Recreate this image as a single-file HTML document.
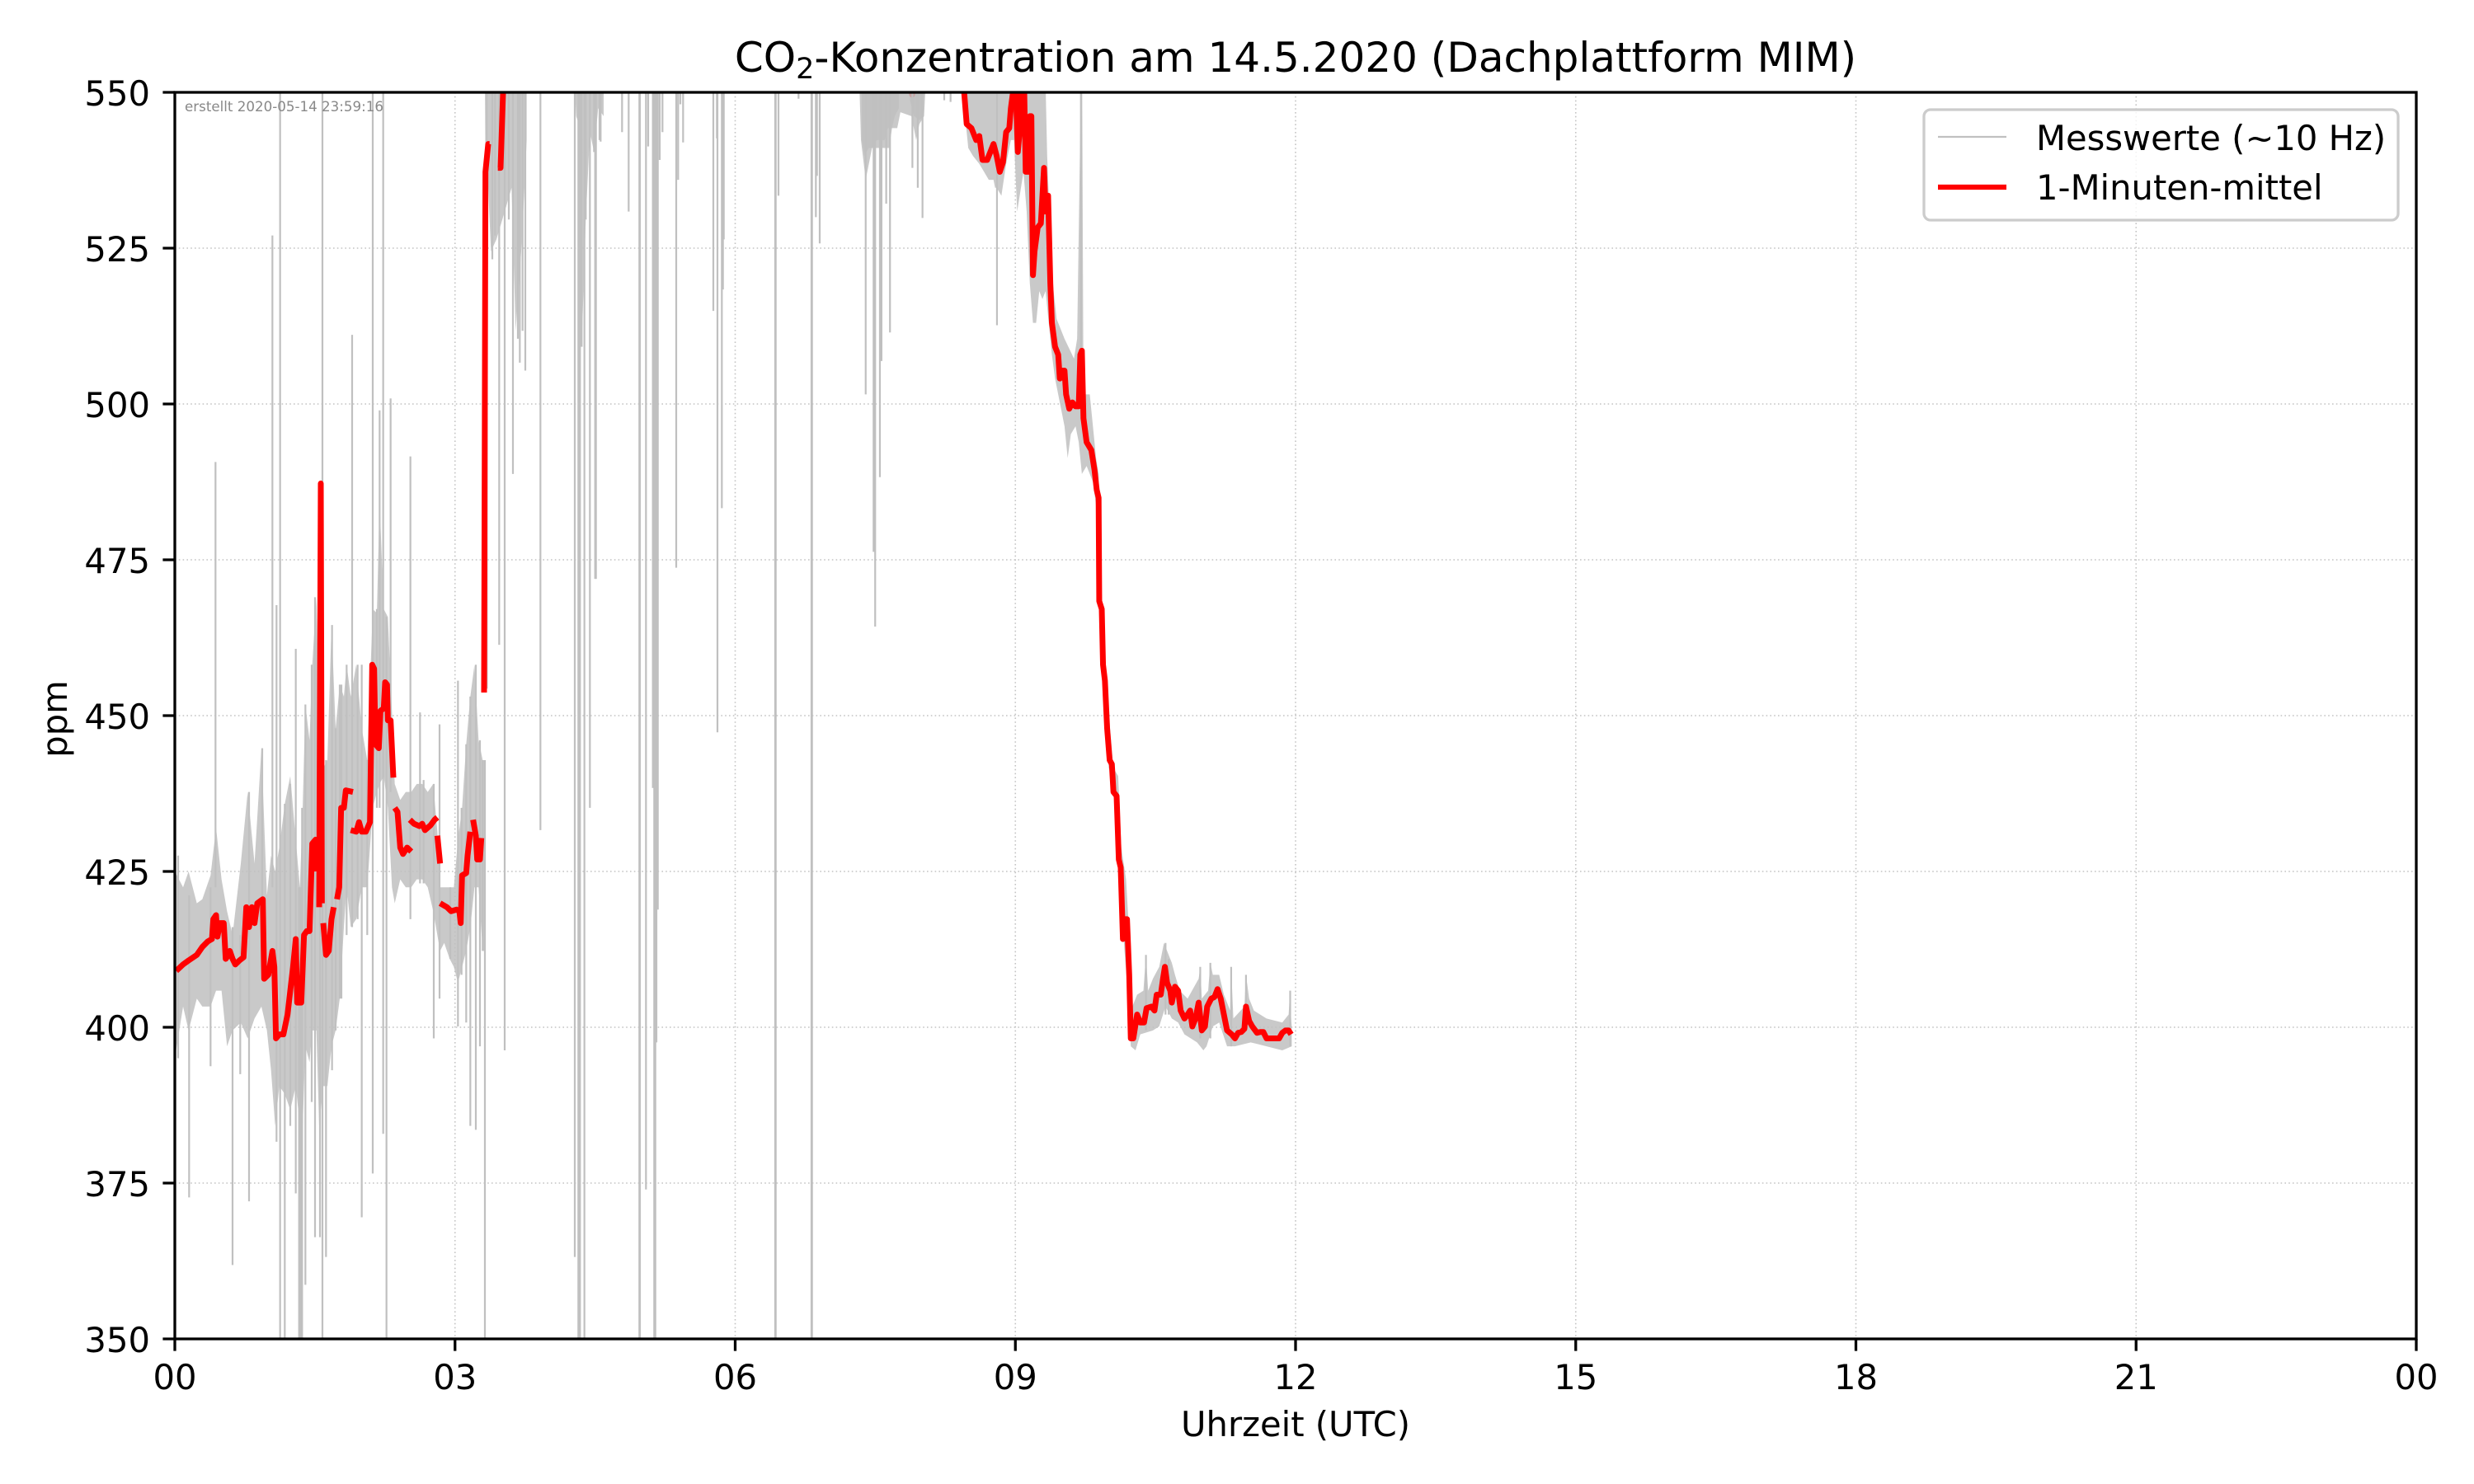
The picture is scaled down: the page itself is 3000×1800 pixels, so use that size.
<!DOCTYPE html>
<html><head><meta charset="utf-8"><style>
html,body{margin:0;padding:0;background:#fff;}
svg{display:block;}
text{font-family:"DejaVu Sans","Liberation Sans",sans-serif;fill:#000;}
</style></head><body>
<svg width="3000" height="1800" viewBox="0 0 3000 1800" xmlns="http://www.w3.org/2000/svg">
<defs><clipPath id="ax"><rect x="212" y="112" width="2718" height="1512"/></clipPath></defs>
<rect x="0" y="0" width="3000" height="1800" fill="#fff"/>
<!-- grid -->
<g stroke="#c4c4c4" stroke-width="1.6" stroke-dasharray="1.6,3.2" fill="none">
<path d="M551.75 112V1624 M891.5 112V1624 M1231.25 112V1624 M1571 112V1624 M1910.75 112V1624 M2250.5 112V1624 M2590.25 112V1624"/>
<path d="M212 1435H2930 M212 1246H2930 M212 1057H2930 M212 868H2930 M212 679H2930 M212 490H2930 M212 301H2930"/>
</g>
<g clip-path="url(#ax)">
<!-- zoom7 region -->
<g transform="translate(212,112) scale(0.33333,0.96429)">
<polygon fill="#c0c0c0" fill-opacity="0.85" points="0,980 30,1000 50,980 80,1020 100,1015 130,985 150,925 170,990 190,1030 210,1060 240,970 265,880 290,970 315,825 335,1010 350,960 365,980 380,950 400,895 420,860 440,940 455,1000 465,900 475,770 490,815 500,720 515,635 525,780 540,850 555,840 570,670 585,800 600,745 615,760 625,720 640,760 660,720 680,800 700,840 720,650 735,655 745,515 760,650 775,660 790,780 800,870 820,890 840,880 860,880 880,870 900,870 920,880 940,870 955,930 965,1000 980,1000 1000,1000 1015,1000 1030,940 1045,900 1060,820 1075,760 1090,720 1105,815 1120,840 1128,840 1128,1080 1120,1080 1105,1000 1090,1000 1075,1050 1060,1080 1045,1100 1030,1120 1015,1100 1000,1090 980,1070 965,1080 955,1060 940,1030 920,1000 900,990 880,990 860,1000 840,1000 820,990 800,1020 790,1000 775,900 760,860 745,870 735,880 720,900 700,1000 680,1000 660,1040 640,1050 625,1000 615,1050 600,1140 585,1180 570,1200 555,1250 540,1250 525,1300 515,1180 500,1180 490,1220 475,1200 465,1300 455,1300 440,1250 420,1280 400,1260 380,1250 365,1300 350,1230 335,1180 315,1150 290,1165 265,1190 240,1170 210,1180 190,1200 170,1130 150,1130 130,1150 100,1150 80,1140 50,1180 30,1150 0,1215"/>
<polygon fill="#c0c0c0" fill-opacity="0.85" points="1128,-10 1280,-10 1280,60 1275,100 1260,200 1240,300 1225,120 1200,150 1170,185 1150,200 1140,120 1130,100"/>
<polygon fill="#c0c0c0" fill-opacity="0.85" points="1455,-10 1560,-10 1560,30 1540,20 1525,75 1510,50 1495,160 1480,320 1470,40 1460,30"/>
<path fill="none" stroke="#c0c0c0" stroke-width="2.2" vector-effect="non-scaling-stroke" d="M148 465V1000 M12 960V1215 M52 1010V1390 M130 1000V1225 M210 1050V1475 M238 1060V1235 M270 880V1395 M318 825V1050 M355 180V1000 M370 645V1320 M383 -10V1580 M400 895V1580 M420 870V1300 M440 700V1385 M452 1000V1580 M458 1000V1580 M463 900V1580 M475 770V1500 M498 720V1270 M510 635V1440 M528 850V1440 M537 -10V1580 M550 840V1465 M572 670V1230 M585 800V1180 M600 745V1140 M606 745V1140 M625 720V1060 M645 305V1050 M665 720V1040 M680 720V1415 M700 840V1060 M720 -10V1360 M735 650V900 M745 400V900 M758 -10V1310 M770 660V1580 M785 385V880 M857 458V1040 M892 780V995 M905 865V995 M942 870V1190 M963 795V1140 M1002 1000V1090 M1030 740V1175 M1043 900V1110 M1060 820V1170 M1075 760V1300 M1095 720V1305 M1110 815V1200 M1120 840V1080 M1128 840V1580 M1135 -10V750 M1155 -10V210 M1165 -10V180 M1180 -10V695 M1200 -10V1205 M1215 -10V160 M1230 -10V480 M1248 -10V310 M1255 -10V340 M1265 -10V300 M1275 -10V350 M1330 -10V928 M1455 -10V1465 M1468 -10V1580 M1474 -10V1580 M1480 -10V320 M1490 -10V1580 M1495 -10V160 M1510 -10V900 M1525 -10V75 M1532 -10V612 M1545 -10V60"/>
</g>
<!-- zoom8 region -->
<g transform="translate(720,112) scale(0.33333,0.96429)">
<polygon fill="#c0c0c0" fill-opacity="0.85" points="975,-10 1110,-10 1110,20 1095,30 1085,45 1075,70 1060,70 1040,70 1020,70 1000,70 985,80 975,60"/>
<polygon fill="#c0c0c0" fill-opacity="0.85" points="1150,-10 1200,-10 1200,30 1185,35 1165,30 1150,10"/>
<path fill="none" stroke="#c0c0c0" stroke-width="2.2" vector-effect="non-scaling-stroke" d="M5 -10V612 M25 -10V62 M103 -10V50 M127 -10V150 M166 -10V1580 M168 -10V1580 M190 -10V1380 M198 -10V68 M215 -10V875 M220 -10V1580 M224 -10V1580 M228 -10V1195 M233 -10V1028 M240 -10V85 M250 -10V50 M300 -10V598 M307 -10V110 M315 -10V15 M325 -10V63 M435 -10V275 M448 -10V58 M450 -10V805 M466 -10V523 M470 -10V248 M473 -10V185 M660 -10V1580 M662 -10V1580 M672 -10V130 M745 -10V8 M792 -10V1580 M794 -10V1580 M808 -10V157 M812 -10V105 M822 -10V190 M1275 -10V10 M1298 -10V12"/>
<polyline fill="none" stroke="#ff0000" stroke-width="7" stroke-linejoin="round" vector-effect="non-scaling-stroke" points="1148,-10 1158,3 1168,-10"/>
</g>
<!-- zoom9 region -->
<g transform="translate(1000,112) scale(0.38270,0.96429)">
<polygon fill="#c0c0c0" fill-opacity="0.85" points="110,-10 320,-10 315,30 300,40 290,60 275,30 240,25 230,45 200,45 190,60 165,60 150,70 130,110 115,60"/>
<polygon fill="#c0c0c0" fill-opacity="0.85" points="440,-10 700,-10 705,80 720,230 735,285 760,310 790,335 800,310 812,-10 816,-10 820,380 840,380 860,460 868,480 875,600 885,700 900,780 915,850 930,860 940,950 955,990 968,1080 975,1150 990,1135 1010,1130 1018,1085 1025,1130 1040,1115 1060,1100 1075,1070 1085,1080 1100,1095 1110,1110 1125,1130 1150,1140 1185,1115 1190,1100 1195,1140 1215,1130 1222,1095 1230,1110 1250,1110 1265,1135 1285,1155 1288,1100 1295,1165 1330,1150 1335,1110 1345,1140 1360,1155 1400,1165 1450,1170 1470,1160 1475,1130 1478,1165 1480,1175 1480,1200 1450,1205 1400,1200 1350,1195 1300,1200 1275,1200 1250,1170 1230,1175 1210,1200 1200,1205 1180,1195 1160,1190 1140,1185 1120,1170 1100,1165 1080,1150 1060,1175 1040,1180 1000,1185 985,1205 970,1200 960,1130 950,1080 940,1010 925,900 910,860 900,850 890,760 880,680 872,520 860,520 850,490 830,470 815,480 805,440 795,420 780,430 770,460 760,420 745,390 730,360 720,330 710,290 700,250 690,260 680,250 670,290 660,290 650,240 640,150 630,100 610,150 600,60 590,60 575,90 560,130 545,120 540,120 535,110 520,110 505,100 490,90 470,80 455,70 445,30 440,20"/>
<path fill="none" stroke="#c0c0c0" stroke-width="2.2" vector-effect="non-scaling-stroke" d="M130 -10V380 M155 -10V578 M160 -10V672 M175 -10V484 M180 -10V338 M207 -10V302 M195 -10V140 M278 -10V95 M295 -10V120 M310 -10V158 M546 -10V293 M812 -10V330 M1018 1085V1180 M1080 1070V1160 M1090 1090V1160 M1190 1100V1190 M1222 1095V1190 M1288 1100V1200 M1335 1110V1180 M1475 1130V1200"/>
<g fill="none" stroke="#ff0000" stroke-width="7" stroke-linejoin="round">
<polyline vector-effect="non-scaling-stroke" points="440,-10 450,40 465,45 480,60 490,55 500,85 515,85 525,75 535,65 545,80 555,100 565,88 575,50 585,45 590,20 600,-10"/>
<polyline vector-effect="non-scaling-stroke" points="605,-10 612,75 620,40 625,-10"/>
<polyline vector-effect="non-scaling-stroke" points="632,-10 637,100 645,100 650,30 655,30 660,230 665,200 675,170 685,165 695,95 700,150 708,130 715,240 720,290 730,320 740,330 745,360 752,350 760,350 765,380 775,398 785,390 795,395 805,395 810,330 815,325 820,410 830,440 845,450 855,475 862,500 868,510 870,640 878,650 882,720 888,740 895,800 903,840 910,845 915,880 925,885 932,965 938,975 945,1065 950,1040 958,1040 965,1110 970,1190 978,1190 990,1160 1000,1170 1012,1170 1020,1152 1035,1150 1045,1155 1052,1135 1065,1135 1072,1115 1078,1100 1085,1120 1095,1130 1100,1145 1110,1125 1120,1130 1128,1155 1140,1165 1150,1160 1158,1155 1165,1175 1175,1165 1185,1145 1195,1180 1205,1175 1212,1150 1225,1140 1235,1138 1245,1128 1255,1140 1265,1160 1275,1180 1290,1185 1300,1190 1310,1183 1320,1182 1330,1178 1335,1150 1345,1168 1355,1175 1370,1183 1380,1182 1390,1182 1400,1190 1415,1190 1430,1190 1440,1190 1450,1183 1460,1180 1470,1180 1478,1185"/>
</g>
</g>
<!-- red in zoom7 coords -->
<g transform="translate(212,112) scale(0.33333,0.96429)" fill="none" stroke="#ff0000" stroke-width="7" stroke-linejoin="round">
<polyline vector-effect="non-scaling-stroke" points="5,1105 30,1097 50,1092 80,1085 100,1075 120,1068 135,1065 140,1040 150,1035 155,1062 165,1045 178,1045 185,1090 195,1085 200,1080 210,1090 220,1097 235,1092 250,1088 260,1025 270,1050 280,1025 290,1045 300,1020 320,1015 325,1115 340,1110 355,1080 362,1100 368,1190 380,1185 395,1185 410,1160 420,1130 430,1100 440,1065 445,1145 460,1145 470,1060 480,1055 490,1055 500,945 512,940 515,980"/>
<polyline vector-effect="non-scaling-stroke" points="525,1025 531,492 535,1020"/>
<polyline vector-effect="non-scaling-stroke" points="540,1045 550,1085 560,1080 570,1040 578,1025"/>
<polyline vector-effect="non-scaling-stroke" points="590,1015 598,1000 605,900 615,900 622,878 648,880"/>
<polyline vector-effect="non-scaling-stroke" points="640,928 660,930 670,918 680,930 695,930 710,918 718,720 725,725 730,820 742,825 748,778 760,775 765,742 772,745 775,790 785,790 795,862"/>
<polyline vector-effect="non-scaling-stroke" points="800,900 810,905 820,950 830,958 845,950 860,955"/>
<polyline vector-effect="non-scaling-stroke" points="855,915 870,920 890,923 900,920 910,928 930,922 945,915 955,912"/>
<polyline vector-effect="non-scaling-stroke" points="955,935 965,970"/>
<polyline vector-effect="non-scaling-stroke" points="965,1020 990,1025 1005,1030 1025,1028 1035,1030 1040,1045 1045,985 1060,982 1065,960 1075,930"/>
<polyline vector-effect="non-scaling-stroke" points="1085,915 1095,935 1100,965 1110,965 1115,938"/>
<polyline vector-effect="non-scaling-stroke" points="1125,755 1130,100 1140,65 1145,65"/>
<polyline vector-effect="non-scaling-stroke" points="1175,95 1185,95 1195,-10"/>
</g>
</g>
<!-- created text -->
<text x="224" y="135" font-size="16.7" style="fill:#888">erstellt 2020-05-14 23:59:16</text>
<!-- spines -->
<rect x="212" y="112" width="2718" height="1512" fill="none" stroke="#000" stroke-width="3.3"/>
<!-- ticks -->
<g stroke="#000" stroke-width="3.3">
<path d="M212 1624v14.6 M551.75 1624v14.6 M891.5 1624v14.6 M1231.25 1624v14.6 M1571 1624v14.6 M1910.75 1624v14.6 M2250.5 1624v14.6 M2590.25 1624v14.6 M2930 1624v14.6"/>
<path d="M212 1624h-14.6 M212 1435h-14.6 M212 1246h-14.6 M212 1057h-14.6 M212 868h-14.6 M212 679h-14.6 M212 490h-14.6 M212 301h-14.6 M212 112h-14.6"/>
</g>
<g font-size="41.7" text-anchor="middle">
<text x="212" y="1685">00</text><text x="551.75" y="1685">03</text><text x="891.5" y="1685">06</text><text x="1231.25" y="1685">09</text><text x="1571" y="1685">12</text><text x="1910.75" y="1685">15</text><text x="2250.5" y="1685">18</text><text x="2590.25" y="1685">21</text><text x="2930" y="1685">00</text>
</g>
<g font-size="41.7" text-anchor="end">
<text x="182" y="1640">350</text><text x="182" y="1451">375</text><text x="182" y="1262">400</text><text x="182" y="1073">425</text><text x="182" y="884">450</text><text x="182" y="695">475</text><text x="182" y="506">500</text><text x="182" y="317">525</text><text x="182" y="128">550</text>
</g>
<text x="1571" y="1742" font-size="41.7" text-anchor="middle">Uhrzeit (UTC)</text>
<text transform="translate(81,872) rotate(-90)" font-size="41.7" text-anchor="middle">ppm</text>
<text x="1571" y="87" font-size="50" text-anchor="middle">CO<tspan font-size="35" dy="8">2</tspan><tspan dy="-8">-Konzentration am 14.5.2020 (Dachplattform MIM)</tspan></text>
<!-- legend -->
<rect x="2333" y="133" width="575" height="134" rx="8" ry="8" fill="#fff" fill-opacity="0.8" stroke="#cccccc" stroke-width="3.3"/>
<line x1="2350" y1="166" x2="2433" y2="166" stroke="#c0c0c0" stroke-width="2.2"/>
<line x1="2350" y1="227" x2="2433" y2="227" stroke="#ff0000" stroke-width="6.25"/>
<text x="2469" y="182" font-size="41.7">Messwerte (~10 Hz)</text>
<text x="2469" y="242" font-size="41.7">1-Minuten-mittel</text>
</svg>
</body></html>
